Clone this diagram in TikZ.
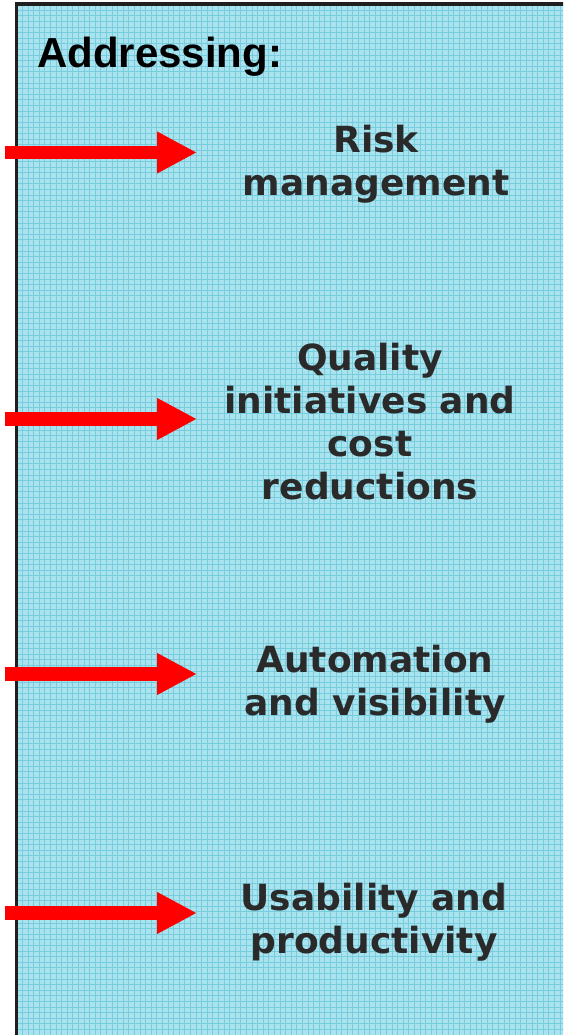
\documentclass[tikz,border=0pt]{standalone}
\usepackage{fontspec}
\usetikzlibrary{arrows.meta}
\newfontfamily\headfont{Liberation Sans}
\newfontfamily\itemfont{DejaVu Sans}
\definecolor{boardfill}{RGB}{170,226,238}
\definecolor{boardgrid}{RGB}{118,205,222}
\definecolor{itemtext}{RGB}{42,42,42}
\definecolor{arrowred}{RGB}{255,0,0}
\tikzset{
  itembox/.style={anchor=north, inner sep=0pt, align=center, text=itemtext,
    font=\itemfont\bfseries\fontsize{36}{43}\selectfont},
  redarrow/.style={draw=arrowred, line width=13.5pt,
    -{Triangle[length=40pt, width=39pt, fill=arrowred]}}
}

\begin{document}
\begin{tikzpicture}[x=1pt, y=1pt]
		%%%%% START %%%%%
		\useasboundingbox (0, 0) rectangle (563, 1035);
		\clip (0, 0) rectangle (563, 1035);
		
		\fill[boardfill] (16, -20) rectangle (620, 1031);
		\draw[boardgrid, line width=0.7pt, step=5.6pt, shift={(16.8, 0)}] (0, -20) grid (620, 1031);
		\draw[line width=3.2pt, color=black!88] (16.5, -20) -- (16.5, 1031) -- (620, 1031);
		
		\node[anchor=base west, inner sep=0pt, font=\headfont\bfseries\fontsize{42}{50}\selectfont] (head) at (37, 967) {Addressing:};
		
		\node[itembox] (risk) at (376, 910) {Risk\\management};
		\node[itembox] (quality) at (370, 692) {Quality\\initiatives and\\cost\\reductions};
		\node[itembox] (auto) at (375, 390) {Automation\\and visibility};
		\node[itembox] (usab) at (374, 152) {Usability and\\productivity};
		
		\coordinate (s1) at (4.5, 882.5); \coordinate (e1) at (197, 882.5);
		\coordinate (s2) at (4.5, 616); \coordinate (e2) at (197, 616);
		\coordinate (s3) at (4.5, 361); \coordinate (e3) at (197, 361);
		\coordinate (s4) at (4.5, 122); \coordinate (e4) at (197, 122);
		
		\draw[redarrow] (s1) -- (e1);
		\draw[redarrow] (s2) -- (e2);
		\draw[redarrow] (s3) -- (e3);
		\draw[redarrow] (s4) -- (e4);
		%%%%% END %%%%%
\end{tikzpicture}
\end{document}
